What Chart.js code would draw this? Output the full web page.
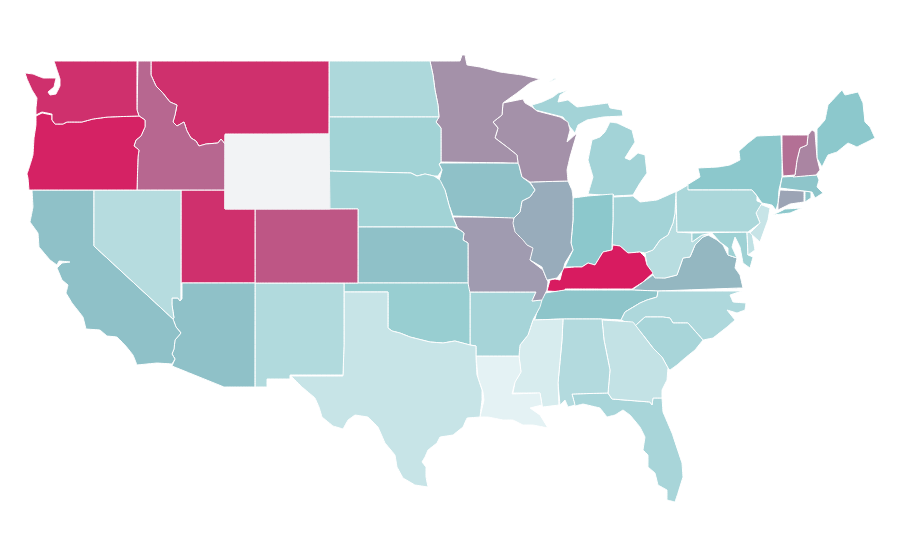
<!DOCTYPE html>
<html>
<head>
<meta charset="utf-8">
<title>US states choropleth</title>
<script src="https://cdn.jsdelivr.net/npm/chart.js@4"></script>
<style>
  html, body { margin: 0; padding: 0; background: #ffffff; }
  canvas { display: block; }
</style>
</head>
<body>
<canvas id="mapChart" width="900" height="560"></canvas>
<script>
// State names, in the same order as stateValues and stateOutlines
const stateNames = ['Washington', 'Oregon', 'Idaho', 'Montana', 'Wyoming', 'Nevada', 'California', 'Arizona', 'Utah', 'Colorado',
    'New Mexico', 'Texas', 'Oklahoma', 'Kansas', 'Nebraska', 'South Dakota', 'North Dakota', 'Minnesota', 'Wisconsin', 'Iowa',
    'Illinois', 'Missouri', 'Arkansas', 'Louisiana', 'Mississippi', 'Alabama', 'Georgia', 'Florida', 'South Carolina', 'North Carolina',
    'Tennessee', 'Kentucky', 'Indiana', 'Ohio', 'Pennsylvania', 'New York', 'Vermont', 'New Hampshire', 'Maine', 'Massachusetts',
    'Connecticut', 'Rhode Island', 'New Jersey', 'Delaware', 'Maryland', 'West Virginia', 'Virginia', 'Michigan'];

// Index values read off the shading, 0-100. Wyoming has no value.
const stateValues = [94, 98, 78, 94, null, 27, 52, 52, 94, 83,
    30, 18, 43.5, 52, 38, 38, 32, 66, 66, 52,
    58, 63, 36, 2, 9, 29, 20, 35, 35, 31.5,
    51, 100, 50, 37.5, 33, 50, 75.5, 69.5, 50, 51,
    60.5, 51, 18, 22, 40, 26, 55, 37.5];

// Outlines in map units, one or more rings per state
const stateOutlines = [
    [[54,61, 137,61, 137,110, 139,116, 108,117, 93,119, 82,122, 67,122, 63,124, 55,124, 52,120, 52,114, 42,112, 36,115, 36,108, 37,98, 32,90, 27,79, 25,73, 33,74, 43,78, 56,78, 54,87, 48,92, 50,95, 56,94, 60,86, 60,79, 57,70]],
    [[36,116, 42,113, 52,115, 52,120, 55,124, 63,124, 67,122, 82,122, 93,119, 108,117, 139,116, 145,120, 145,127, 141,136, 136,140, 134,146, 139,150, 138,157, 137,190, 29,190, 28,178, 27,174, 30,165, 33,155, 34,138, 36,125]],
    [[138,61, 151,61, 151,75, 156,86, 162,92, 170,102, 177,105, 175,115, 173,122, 177,126, 184,122, 187,131, 191,138, 196,141, 199,146, 206,144, 218,143, 221,139, 225,144, 225,190, 137,190, 138,157, 139,150, 134,146, 136,140, 141,136, 145,127, 145,120, 139,116, 137,110]],
    [[151,61, 329,61, 329,134, 225,134, 225,144, 221,139, 218,143, 206,144, 199,146, 196,141, 191,138, 187,131, 184,122, 177,126, 173,122, 175,115, 177,105, 170,102, 162,92, 156,86, 151,75]],
    [[225,135, 329,134, 330,209, 225,209]],
    [[94,190, 181,190, 181,299, 180,301, 178,298, 172,298, 172,305, 174,318, 173,319, 94,246]],
    [[32,190, 94,190, 94,246, 173,319, 176,327, 181,333, 175,340, 174,349, 172,354, 175,359, 172,364, 157,363, 137,365, 133,355, 125,345, 117,337, 107,336, 100,330, 86,329, 83,317, 72,303, 66,293, 68,285, 62,280, 57,268, 62,263, 70,262, 59,261, 57,265, 50,260, 39,247, 38,233, 30,222, 33,207]],
    [[182,283, 255,283, 255,387, 224,387, 172,366, 175,359, 172,354, 174,349, 175,340, 181,333, 176,327, 173,319, 174,318, 172,305, 172,298, 178,298, 180,301, 182,299]],
    [[181,190, 225,190, 225,209, 255,209, 255,283, 181,283]],
    [[255,209, 358,209, 358,283, 255,283]],
    [[255,283, 344,283, 344,345, 343,375, 290,375, 290,379, 267,379, 267,387, 255,387]],
    [[344,292, 388,292, 388,328, 392,331, 400,333, 410,337, 418,339, 430,342, 443,343, 455,341, 470,345, 476,346, 476,358, 477,375, 482,390, 482,400, 480,417, 467,418, 463,427, 453,435, 440,437, 437,443, 428,450, 425,457, 422,462, 426,467, 426,477, 428,487, 415,485, 403,478, 397,467, 395,455, 385,443, 378,427, 368,417, 355,415, 348,420, 343,429, 333,426, 322,417, 319,407, 315,398, 302,387, 291,376, 343,376, 344,345]],
    [[344,283, 468,283, 470,293, 470,345, 455,341, 443,343, 430,342, 418,339, 410,337, 400,333, 392,331, 388,328, 388,292, 344,292]],
    [[358,227, 453,227, 460,230, 464,233, 463,240, 468,243, 468,283, 358,283]],
    [[329,171, 411,173, 417,176, 425,174, 434,176, 440,180, 445,190, 449,205, 453,218, 457,227, 358,227, 358,209, 329,209]],
    [[329,117, 439,117, 436,122, 441,128, 441,162, 439,164, 442,170, 438,176, 434,176, 425,174, 417,176, 411,173, 329,171]],
    [[329,61, 430,61, 433,75, 435,90, 438,105, 439,117, 329,117]],
    [[430,61, 460,61, 462,55, 465,55, 467,65, 480,67, 500,72, 522,75, 540,79, 530,83, 517,93, 503,103, 502,115, 493,122, 498,128, 495,138, 507,147, 517,155, 518,163, 441,162, 441,128, 436,122, 439,117, 438,105, 435,90, 433,75]],
    [[503,103, 523,99, 525,103, 532,107, 537,111, 560,117, 568,122, 570,130, 567,142, 577,133, 570,157, 567,170, 568,181, 530,182, 522,177, 519,165, 518,163, 517,155, 507,147, 495,138, 498,128, 493,122, 502,115]],
    [[441,163, 518,163, 519,165, 522,177, 530,183, 535,190, 530,197, 522,201, 520,212, 514,218, 453,216, 449,205, 445,190, 439,181, 442,170, 439,164]],
    [[530,182, 568,181, 572,190, 573,197, 573,220, 571,243, 573,250, 565,263, 563,270, 557,278, 547,280, 543,270, 542,267, 530,260, 533,248, 527,245, 523,240, 515,232, 513,223, 514,218, 520,212, 522,201, 530,197, 535,190]],
    [[453,217, 514,217, 514,227, 525,240, 535,248, 530,260, 543,270, 548,282, 547,290, 542,300, 532,301, 536,292, 468,292, 468,243, 463,240, 464,233, 460,230, 457,227]],
    [[469,292, 536,292, 532,301, 542,300, 540,307, 533,320, 528,335, 520,345, 519,356, 476,356, 476,346, 470,345, 470,293]],
    [[476,356, 519,356, 521,372, 515,382, 512,394, 540,393, 542,405, 530,408, 540,415, 548,428, 533,425, 523,425, 513,420, 503,420, 488,417, 480,417, 484,400, 483,392, 478,378]],
    [[533,320, 563,319, 562,340, 558,383, 559,405, 543,407, 542,405, 540,393, 513,393, 515,382, 521,372, 519,356, 520,345, 528,335]],
    [[563,319, 602,319, 604,340, 610,370, 608,393, 572,394, 575,405, 568,407, 565,400, 560,405, 558,383, 562,340]],
    [[602,320, 633,322, 643,335, 653,348, 662,357, 668,368, 667,380, 662,390, 662,398, 653,398, 652,405, 650,402, 612,399, 608,393, 610,370, 604,340]],
    [[572,394, 608,393, 612,399, 650,402, 652,405, 653,398, 662,398, 663,412, 672,433, 682,463, 683,477, 678,493, 675,502, 667,500, 667,490, 658,485, 655,473, 648,467, 648,455, 643,450, 645,437, 640,427, 630,415, 623,410, 615,415, 607,417, 600,408, 583,404, 575,406]],
    [[635,326, 645,317, 663,317, 670,318, 673,323, 688,323, 703,340, 695,350, 685,358, 677,365, 670,370, 668,368, 662,357, 653,348, 643,335]],
    [[658,291, 742,291, 730,295, 733,302, 746,303, 745,310, 737,313, 727,310, 735,320, 727,327, 713,338, 703,340, 688,323, 673,323, 670,318, 663,317, 645,317, 635,326, 621,320, 625,312, 640,303, 647,300, 657,297]],
    [[535,319, 540,300, 545,293, 565,290, 600,290, 632,290, 658,291, 657,297, 647,300, 640,303, 625,312, 621,320, 602,319, 563,319, 533,320]],
    [[547,291, 550,280, 555,279, 560,280, 563,268, 575,267, 582,267, 588,263, 595,265, 603,252, 612,250, 613,245, 620,246, 628,253, 640,252, 645,257, 647,265, 653,273, 643,282, 632,289, 600,289, 565,289, 565,292]],
    [[573,198, 588,196, 613,194, 613,220, 612,245, 612,250, 603,252, 595,265, 588,263, 582,267, 575,267, 565,267, 573,250, 571,243, 573,220]],
    [[613,194, 614,197, 633,196, 640,202, 657,200, 675,192, 676,192, 675,213, 673,223, 668,235, 660,240, 653,250, 645,253, 640,252, 628,253, 620,246, 613,245, 612,245, 613,220]],
    [[676,192, 688,185, 688,190, 752,190, 757,196, 757,201, 762,203, 756,213, 760,223, 748,232, 677,232]],
    [[688,190, 687,185, 700,177, 698,168, 718,167, 730,165, 740,160, 739,151, 748,143, 757,136, 781,135, 782,160, 782,177, 779,190, 778,203, 776,210, 772,205, 762,203, 757,196, 752,190], [773,215, 785,209, 802,208, 790,213]],
    [[782,135, 808,135, 807,145, 800,148, 797,160, 795,175, 783,176, 782,160]],
    [[812,130, 815,132, 817,158, 820,170, 816,175, 793,177, 795,175, 797,160, 800,148, 807,145, 808,135]],
    [[817,129, 825,120, 828,105, 842,90, 845,95, 858,92, 863,103, 865,122, 870,127, 875,138, 867,142, 857,147, 848,143, 837,152, 828,155, 822,167, 817,158]],
    [[782,177, 817,175, 819,180, 817,187, 823,193, 815,198, 812,192, 780,188]],
    [[780,190, 804,191, 804,202, 790,204, 778,210, 778,203]],
    [[805,191, 811,192, 811,198, 805,202]],
    [[757,203, 770,208, 768,220, 760,242, 750,233, 760,223, 756,213]],
    [[747,232, 752,233, 755,250, 748,255]],
    [[692,233, 747,232, 748,255, 753,257, 750,268, 743,263, 740,247, 735,237, 732,247, 737,258, 728,255, 728,248, 720,242, 712,233, 702,235, 692,242]],
    [[676,192, 677,232, 692,233, 692,242, 702,235, 708,235, 703,237, 695,245, 690,257, 683,258, 677,275, 665,278, 655,278, 647,265, 645,253, 653,250, 660,240, 668,235, 673,223, 675,213]],
    [[632,290, 643,282, 653,275, 655,277, 665,278, 677,275, 683,258, 690,257, 695,245, 703,237, 708,235, 717,240, 723,245, 728,255, 737,258, 735,268, 740,275, 743,288, 740,288, 658,291]],
    [[532,105, 542,102, 553,97, 558,93, 568,90, 560,95, 558,102, 568,100, 577,107, 593,105, 608,103, 610,108, 622,110, 623,116, 603,117, 587,120, 578,125, 575,133, 570,127, 563,117, 535,110], [610,122, 617,123, 632,130, 635,142, 625,158, 630,160, 638,153, 645,155, 647,173, 640,183, 633,195, 614,196, 588,194, 593,177, 588,160, 592,140, 600,137, 605,132], [549,82, 555,78, 556,79, 550,82]]
];

// Colour ramp: pale teal at 0, teal at 50, crimson at 100
const rampLow = [232, 244, 246];
const rampMid = [140, 200, 204];
const rampHigh = [216, 27, 96];
const noDataColor = '#f2f3f5';

function valueColor(value) {
    if (value === null) {
        return noDataColor;
    }
    const from = value < 50 ? rampLow : rampMid;
    const to = value < 50 ? rampMid : rampHigh;
    const t = value < 50 ? value / 50 : (value - 50) / 50;
    const rgb = from.map((c, i) => Math.round(c + (to[i] - c) * t));
    return 'rgb(' + rgb.join(',') + ')';
}

// Turn a flat ring into closed x/y points
function ringPoints(ring) {
    const points = [];
    for (let i = 0; i < ring.length; i += 2) {
        points.push({ x: ring[i], y: ring[i + 1] });
    }
    points.push({ x: ring[0], y: ring[1] });
    return points;
}

const datasets = [];
stateNames.forEach(function(name, i) {
    const noData = stateValues[i] === null;
    stateOutlines[i].forEach(function(ring) {
        datasets.push({
            label: name,
            data: ringPoints(ring),
            showLine: true,
            fill: 'shape',
            backgroundColor: valueColor(stateValues[i]),
            // the no-data state sits on top with no white edge
            borderColor: noData ? noDataColor : '#ffffff',
            borderWidth: 1,
            borderJoinStyle: noData ? 'miter' : 'round',
            pointRadius: 0,
            pointHoverRadius: 0,
            tension: 0.0001,
            order: noData ? -1 : 0
        });
    });
});

new Chart(document.getElementById('mapChart'), {
    type: 'scatter',
    data: { datasets: datasets },
    options: {
        responsive: false,
        animation: false,
        layout: { padding: 0 },
        plugins: {
            legend: { display: false },
            title: { display: false },
            tooltip: { enabled: false }
        },
        scales: {
            x: { type: 'linear', min: 0, max: 900, display: false },
            y: { type: 'linear', min: 0, max: 560, reverse: true, display: false }
        }
    }
});
</script>
</body>
</html>
